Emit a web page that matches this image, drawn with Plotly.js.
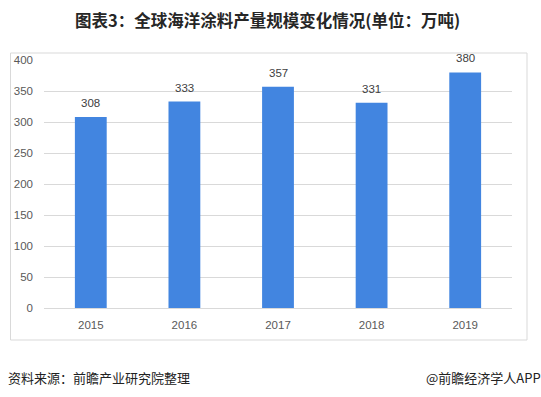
<!DOCTYPE html>
<html><head><meta charset="utf-8">
<script src="https://cdn.plot.ly/plotly-3.0.1.min.js"></script>
<style>html,body{margin:0;padding:0;background:#fff;}#chart{width:541px;height:397px;}</style>
</head><body><div id="chart"></div>
<script>
const years = ['2015','2016','2017','2018','2019'];
const values = [308, 333, 357, 331, 380];
const yTicks = [0, 50, 100, 150, 200, 250, 300, 350, 400];
const titleText = '图表3：全球海洋涂料产量规模变化情况(单位：万吨)';
const sourceText = '资料来源：前瞻产业研究院整理';
const brandText = '@前瞻经济学人APP';

const W = 541, H = 397;
const L = 44, R = 512, T = 60, B = 308;
const px = x => (x - L) / (R - L);
const py = y => (B - y) / (B - T);

const trace = {
  type: 'bar', x: years, y: values,
  marker: {color: '#4285e0'},
  hoverinfo: 'none'
};
const annotations = years.map((yr, i) => ({
  x: i, y: values[i], xref: 'x', yref: 'y',
  text: String(values[i]), showarrow: false,
  yanchor: 'bottom', yshift: 6,
  font: {family: 'Liberation Sans, Arial, sans-serif', size: 11.5, color: '#404040'}
}));
annotations.push({
  xref: 'paper', yref: 'paper', x: px(267), y: py(20),
  xanchor: 'center', yanchor: 'middle', showarrow: false,
  text: '<b>' + titleText + '</b>',
  font: {family: 'Noto Sans CJK SC, sans-serif', size: 16.5, color: '#262626'}
});
annotations.push({
  xref: 'paper', yref: 'paper', x: px(6), y: py(377),
  xanchor: 'left', yanchor: 'middle', showarrow: false,
  text: sourceText,
  font: {family: 'Noto Sans CJK SC, sans-serif', size: 13, color: '#222'}
});
annotations.push({
  xref: 'paper', yref: 'paper', x: px(543), y: py(377),
  xanchor: 'right', yanchor: 'middle', showarrow: false,
  text: brandText,
  font: {family: 'Noto Sans CJK SC, sans-serif', size: 13, color: '#222'}
});

const layout = {
  width: W, height: H,
  margin: {l: L, r: W - R, t: T, b: H - B},
  paper_bgcolor: '#fff', plot_bgcolor: '#fff',
  showlegend: false, bargap: 0.66,
  xaxis: {
    type: 'category', range: [-0.5, years.length - 0.5], autorange: false,
    showgrid: false, zeroline: false,
    showline: true, linecolor: '#d9d9d9', linewidth: 1,
    ticks: '', ticklabelstandoff: 6,
    tickfont: {family: 'Liberation Sans, Arial, sans-serif', size: 11.5, color: '#595959'},
    fixedrange: true
  },
  yaxis: {
    range: [0, 400], autorange: false, tickvals: yTicks, showgrid: true, gridcolor: '#d9d9d9',
    zeroline: false, showline: false, ticks: '', ticklabelstandoff: 10,
    tickfont: {family: 'Liberation Sans, Arial, sans-serif', size: 11.5, color: '#595959'},
    fixedrange: true
  },
  shapes: [{
    type: 'rect', xref: 'paper', yref: 'paper',
    x0: px(10.5), x1: px(527), y0: py(340), y1: py(53),
    line: {color: '#d9d9d9', width: 1}, fillcolor: 'rgba(0,0,0,0)', layer: 'below'
  }],
  annotations: annotations
};
Plotly.newPlot('chart', [trace], layout, {staticPlot: true, displayModeBar: false});
</script></body></html>
